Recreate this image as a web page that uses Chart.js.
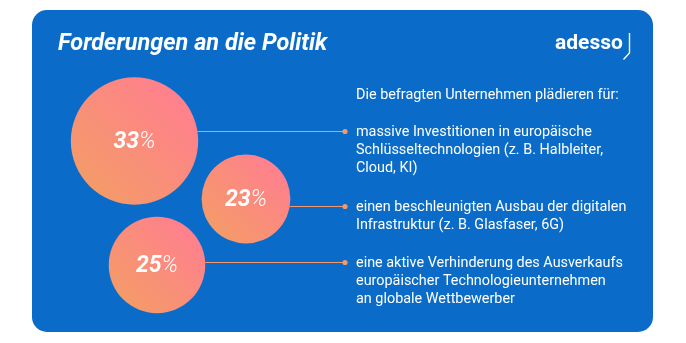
<!DOCTYPE html>
<html>
<head>
<meta charset="utf-8">
<script src="https://cdn.jsdelivr.net/npm/chart.js@4/dist/chart.umd.min.js"></script>
<style>
  html, body { margin: 0; padding: 0; background: #ffffff; }
  canvas { display: block; }
</style>
</head>
<body>
<canvas id="chart" width="686" height="343"></canvas>
<script>
// Content
const title = 'Forderungen an die Politik';
const brand = 'adesso';
const intro = 'Die befragten Unternehmen plädieren für:';
const percents = [33, 23, 25];
const demands = [
  ['massive Investitionen in europäische', 'Schlüsseltechnologien (z. B. Halbleiter,', 'Cloud, KI)'],
  ['einen beschleunigten Ausbau der digitalen', 'Infrastruktur (z. B. Glasfaser, 6G)'],
  ['eine aktive Verhinderung des Ausverkaufs', 'europäischer Technologieunternehmen', 'an globale Wettbewerber']
];

// Layout of the bubble cluster on a 10x10 grid
const bubbleCol = [2.98, 7.44, 3.88];
const bubbleRow = [2.84, 5.16, 7.80];
const PX_PER_POINT = 1.93;           // bubble radius in px per percentage point

const BLUE = '#0a6cc8';
const PINK = '#ff7f8e';
const ORANGE = '#f49b68';
const LINE = '#f39a6c';
const BODY_FONT = 'Roboto, "Open Sans", sans-serif';

const TEXT_X = 356;
const DOT_X = 345;
const LINE_H = 18.4;
const INTRO_BASE = 98.5;
const ITEM_BASE = [135.5, 210.5, 266.5];

function roundRect(ctx, x, y, w, h, r) {
  ctx.beginPath();
  ctx.moveTo(x + r, y);
  ctx.arcTo(x + w, y, x + w, y + h, r);
  ctx.arcTo(x + w, y + h, x, y + h, r);
  ctx.arcTo(x, y + h, x, y, r);
  ctx.arcTo(x, y, x + w, y, r);
  ctx.closePath();
}

const panelPlugin = {
  id: 'panel',
  beforeDraw(chart) {
    const ctx = chart.ctx;
    ctx.save();
    ctx.fillStyle = '#ffffff';
    ctx.fillRect(0, 0, chart.width, chart.height);
    ctx.fillStyle = BLUE;
    roundRect(ctx, 32, 10, 621, 322, 15);
    ctx.fill();

    // title
    ctx.fillStyle = '#ffffff';
    ctx.textBaseline = 'alphabetic';
    ctx.font = 'italic 700 23.5px ' + BODY_FONT;
    ctx.fillText(title, 58, 49.5);

    // brand mark
    ctx.font = '700 21px ' + BODY_FONT;
    ctx.fillText(brand, 555, 49);
    ctx.strokeStyle = '#ffffff';
    ctx.lineWidth = 1.4;
    ctx.beginPath();
    ctx.moveTo(629.5, 33);
    ctx.lineTo(629.5, 53);
    ctx.lineTo(623.5, 59.5);
    ctx.stroke();

    // statements
    ctx.font = '400 14.4px ' + BODY_FONT;
    ctx.fillText(intro, TEXT_X, INTRO_BASE);
    demands.forEach((lines, i) => {
      lines.forEach((t, j) => ctx.fillText(t, TEXT_X, ITEM_BASE[i] + j * LINE_H));
    });
    ctx.restore();
  },
  afterDatasetsDraw(chart) {
    const ctx = chart.ctx;
    const meta = chart.getDatasetMeta(0);
    ctx.save();
    meta.data.forEach((el, i) => {
      const r = el.options.radius;
      const ly = ITEM_BASE[i] - 4;
      const dy = ly - el.y;
      const x0 = el.x + Math.sqrt(Math.max(r * r - dy * dy, 0));
      ctx.strokeStyle = LINE;
      ctx.lineWidth = 1.2;
      ctx.beginPath();
      ctx.moveTo(x0, ly);
      ctx.lineTo(DOT_X, ly);
      ctx.stroke();
      ctx.fillStyle = LINE;
      ctx.beginPath();
      ctx.arc(DOT_X, ly, 2.6, 0, Math.PI * 2);
      ctx.fill();

      // value label: bold number, light percent sign
      const num = String(percents[i]);
      ctx.font = 'italic 700 23px ' + BODY_FONT;
      const wNum = ctx.measureText(num).width;
      ctx.font = 'italic 300 23px ' + BODY_FONT;
      const wPct = ctx.measureText('%').width;
      const start = el.x - (wNum + wPct) / 2;
      ctx.fillStyle = '#ffffff';
      ctx.textBaseline = 'middle';
      ctx.font = 'italic 700 23px ' + BODY_FONT;
      ctx.fillText(num, start, el.y + 1);
      ctx.font = 'italic 300 23px ' + BODY_FONT;
      ctx.fillText('%', start + wNum, el.y + 1);
    });
    ctx.restore();
  }
};

function bubbleFill(context) {
  const chart = context.chart;
  const d = context.raw;
  if (!d || !chart.chartArea) return PINK;
  const cx = chart.scales.x.getPixelForValue(d.x);
  const cy = chart.scales.y.getPixelForValue(d.y);
  const r = d.r;
  const g = chart.ctx.createLinearGradient(cx - r * 0.75, cy + r * 0.75, cx + r * 0.75, cy - r * 0.75);
  g.addColorStop(0, ORANGE);
  g.addColorStop(1, PINK);
  return g;
}

new Chart(document.getElementById('chart'), {
  type: 'bubble',
  data: {
    datasets: [{
      data: percents.map((v, i) => ({ x: bubbleCol[i], y: bubbleRow[i], r: v * PX_PER_POINT })),
      backgroundColor: bubbleFill,
      borderWidth: 0,
      radius: 0,
      clip: false
    }]
  },
  options: {
    responsive: false,
    animation: false,
    events: [],
    layout: { autoPadding: false, padding: { left: 60, right: 376, top: 70, bottom: 23 } },
    scales: {
      x: { type: 'linear', min: 0, max: 10, display: false },
      y: { type: 'linear', min: 0, max: 10, reverse: true, display: false }
    },
    plugins: {
      legend: { display: false },
      tooltip: { enabled: false }
    }
  },
  plugins: [panelPlugin]
});
</script>
</body>
</html>
